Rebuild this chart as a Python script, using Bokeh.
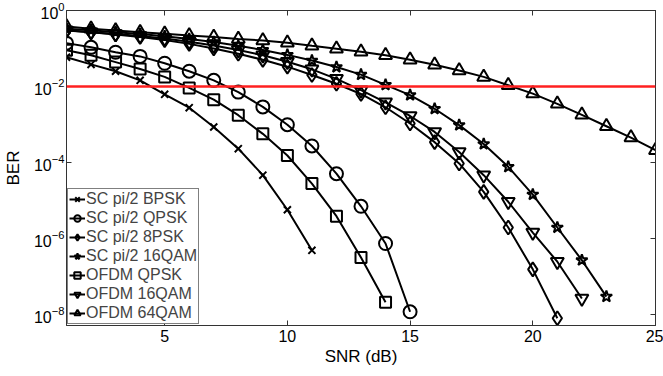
from bokeh.plotting import figure
from bokeh.models import Range1d, FixedTicker, LogAxis, LinearAxis, Span, Legend, LegendItem
from bokeh.embed import file_html
from bokeh.resources import INLINE

# ---------------- data ----------------
snr = [1, 2, 3, 4, 5, 6, 7, 8, 9, 10, 11, 12, 13, 14, 15, 16, 17, 18, 19, 20, 21, 22, 23, 24, 25]

ber_sc_bpsk = [0.0589, 0.0380, 0.0251, 0.01445, 6.17e-3, 2.75e-3, 8.51e-4, 2.29e-4, 4.57e-5, 5.62e-6, 4.79e-7]
ber_sc_qpsk = [0.138, 0.107, 0.0794, 0.0617, 0.0407, 0.0251, 0.01445, 7.08e-3, 2.88e-3, 9.77e-4, 2.69e-4,
               5.01e-5, 6.92e-6, 7.24e-7, 1.15e-8]
ber_sc_8psk = [0.302, 0.269, 0.234, 0.200, 0.166, 0.132, 0.100, 0.0724, 0.0501, 0.0331, 0.0200,
               0.0117, 6.31e-3, 2.82e-3, 1.05e-3, 3.39e-4, 9.33e-5, 1.66e-5, 1.91e-6, 1.51e-7, 7.76e-9]
ber_sc_16qam = [0.331, 0.302, 0.269, 0.240, 0.209, 0.178, 0.148, 0.117, 0.0912, 0.0676, 0.0479,
                0.0324, 0.0204, 0.0110, 5.89e-3, 2.57e-3, 9.55e-4, 3.02e-4, 7.59e-5, 1.41e-5, 1.91e-6,
                2.63e-7, 2.88e-8]
ber_ofdm_qpsk = [0.0891, 0.0661, 0.0437, 0.0288, 0.0178, 9.12e-3, 4.47e-3, 1.74e-3, 5.62e-4, 1.51e-4,
                 2.75e-5, 3.80e-6, 3.09e-7, 2.04e-8]
ber_ofdm_16qam = [0.295, 0.269, 0.240, 0.214, 0.182, 0.151, 0.120, 0.0912, 0.0661, 0.0447, 0.0282,
                  0.0158, 7.94e-3, 3.80e-3, 1.66e-3, 6.31e-4, 1.86e-4, 4.57e-5, 9.12e-6, 1.41e-6,
                  2.40e-7, 2.57e-8]
ber_ofdm_64qam = [0.380, 0.331, 0.295, 0.269, 0.245, 0.219, 0.200, 0.178, 0.162, 0.141, 0.117, 0.0977,
                  0.0813, 0.0661, 0.0501, 0.0372, 0.0263, 0.0178, 0.0107, 6.46e-3, 3.47e-3, 1.78e-3,
                  8.91e-4, 4.47e-4, 2.09e-4]

labels = ["SC pi/2 BPSK", "SC pi/2 QPSK", "SC pi/2 8PSK", "SC pi/2 16QAM",
          "OFDM QPSK", "OFDM 16QAM", "OFDM 64QAM"]
series = [ber_sc_bpsk, ber_sc_qpsk, ber_sc_8psk, ber_sc_16qam,
          ber_ofdm_qpsk, ber_ofdm_16qam, ber_ofdm_64qam]
markers = ["x", "circle", "diamond", "star", "square", "inverted_triangle", "triangle"]
marker_sizes = [10, 13, 14, 12, 11, 13, 13]

x_ticks = [5, 10, 15, 20, 25]
y_ticks = [1e-8, 1e-6, 1e-4, 1e-2, 1]
threshold = 1e-2

FONT = "Liberation Sans"

p = figure(width=663, height=376, x_range=Range1d(1, 25), y_range=Range1d(5e-9, 1),
           y_axis_type="log", output_backend="svg", toolbar_location=None,
           min_border_left=66, min_border_right=8, min_border_top=10, min_border_bottom=51,
           background_fill_color="white", border_fill_color="white")
p.xgrid.visible = False
p.ygrid.visible = False
p.outline_line_color = "#333333"

xax = p.below[0]
yax = p.left[0]
xax.ticker = FixedTicker(ticks=x_ticks)
yax.ticker = FixedTicker(ticks=y_ticks)
xax.axis_label = "SNR (dB)"
yax.axis_label = "BER"

top = LinearAxis(ticker=FixedTicker(ticks=x_ticks), major_label_text_font_size="1px",
                 major_label_text_alpha=0, major_label_standoff=0)
right = LogAxis(ticker=FixedTicker(ticks=y_ticks), major_label_text_font_size="1px",
                major_label_text_alpha=0, major_label_standoff=0)
p.add_layout(top, "above")
p.add_layout(right, "right")

for ax in [xax, yax, top, right]:
    ax.major_tick_in = 5
    ax.major_tick_out = 0
    ax.minor_tick_in = 0
    ax.minor_tick_out = 0
    ax.axis_line_color = "#333333"
    ax.major_tick_line_color = "#333333"
    ax.major_label_text_font = FONT
    ax.axis_label_text_font = FONT
    ax.axis_label_text_font_style = "normal"
    ax.axis_label_text_font_size = "17px"
    ax.axis_label_text_color = "black"

for ax in [xax, yax]:
    ax.major_label_text_color = "black"
    ax.major_label_text_font_size = "16px"

xax.major_label_standoff = 4
xax.axis_label_standoff = 2
yax.major_label_standoff = 2
yax.axis_label_standoff = 8

items = []
for lab, ber, mk, ms in zip(labels, series, markers, marker_sizes):
    xs = snr[:len(ber)]
    ln = p.line(xs, ber, line_color="black", line_width=2)
    sc = p.scatter(xs, ber, marker=mk, size=ms, line_color="black", line_width=2, fill_color=None)
    items.append(LegendItem(label=lab, renderers=[ln, sc]))

p.add_layout(Span(location=threshold, dimension="width", line_color="#ff2020", line_width=2.5))

legend = Legend(items=items, location="bottom_left", margin=1, padding=1, spacing=1,
                glyph_width=16, glyph_height=18, label_height=18, label_standoff=1,
                label_text_font=FONT, label_text_font_size="16px",
                border_line_color="black", border_line_width=1,
                background_fill_color="white", background_fill_alpha=1)
p.add_layout(legend)

open("out.html", "w").write(file_html(p, INLINE))
